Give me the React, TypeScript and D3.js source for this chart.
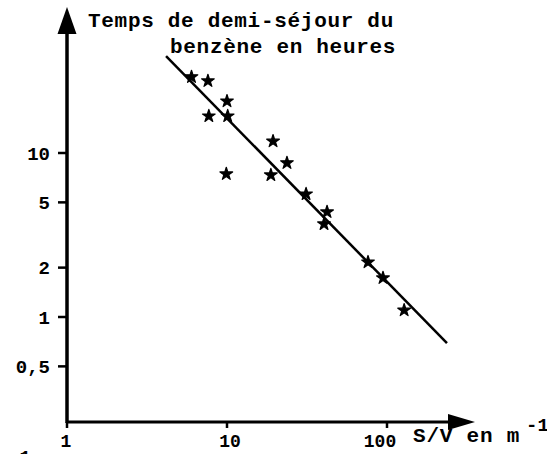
import React, { useEffect, useRef } from 'react';
import * as d3 from 'd3';

// surface/volume ratio (m-1) and benzene half-residence time (hours)
const surfaceVolume = [6.0, 7.6, 10.0, 7.7, 10.1, 19.4, 23.7, 9.9, 18.8, 31.2, 42.2, 40.4, 76.1, 94.4, 128];
const halfTime = [29.1, 27.5, 20.7, 16.8, 16.8, 11.8, 8.7, 7.45, 7.34, 5.62, 4.37, 3.69, 2.16, 1.73, 1.10];

// fitted line end points
const fitX = [4.16, 237];
const fitY = [39.0, 0.694];

const xTicks = [1, 10, 100];
const xTickLabels = ['1', '10', '100'];
const yTicks = [10, 5, 2, 1, 0.5];
const yTickLabels = ['10', '5', '2', '1', '0,5'];

const titleLines = ['Temps de demi-séjour du', 'benzène en heures'];

function App() {
  return (
    <div>
      <HalfTimeChart />
    </div>
  );
}

function HalfTimeChart() {
  const d3Container = useRef(null);

  useEffect(() => {
    document.body.style.margin = '0';
    if (!d3Container.current) return;

    const width = 547;
    const height = 454;
    const font = '"Liberation Mono", "DejaVu Sans Mono", monospace';

    d3.select(d3Container.current).select('svg').remove();

    const svg = d3.select(d3Container.current)
      .append('svg')
      .attr('width', width)
      .attr('height', height)
      .style('display', 'block')
      .style('background', '#fff');

    const x = d3.scaleLog().domain([1, 100]).range([67, 387]);
    const y = d3.scaleLog().domain([1, 10]).range([317, 153]);

    const x0 = x(1);
    const yBase = 422;

    // axes with arrow heads
    svg.append('line')
      .attr('x1', x0).attr('y1', yBase)
      .attr('x2', 450).attr('y2', yBase)
      .style('stroke', '#000').style('stroke-width', 3);
    svg.append('path')
      .attr('d', `M448,${yBase - 8} L475,${yBase} L448,${yBase + 8} Z`)
      .style('fill', '#000');

    svg.append('line')
      .attr('x1', x0).attr('y1', yBase + 1)
      .attr('x2', x0).attr('y2', 30)
      .style('stroke', '#000').style('stroke-width', 3.5);
    svg.append('path')
      .attr('d', `M${x0 - 9.5},34 L${x0},7 L${x0 + 9.5},34 Z`)
      .style('fill', '#000');

    // x ticks
    xTicks.forEach((t, i) => {
      svg.append('line')
        .attr('x1', x(t)).attr('y1', yBase)
        .attr('x2', x(t)).attr('y2', yBase + 6)
        .style('stroke', '#000').style('stroke-width', 2.5);
      svg.append('text')
        .attr('x', x(t) - (i === 0 ? 1 : i === 1 ? -3 : 7))
        .attr('y', 447)
        .attr('text-anchor', 'middle')
        .style('font-family', font)
        .style('font-weight', 'bold')
        .style('font-size', '18px')
        .text(xTickLabels[i]);
    });

    // y ticks
    yTicks.forEach((t, i) => {
      svg.append('line')
        .attr('x1', x0 - 9).attr('y1', y(t))
        .attr('x2', x0).attr('y2', y(t))
        .style('stroke', '#000').style('stroke-width', 2.5);
      svg.append('text')
        .attr('x', 50)
        .attr('y', y(t))
        .attr('dy', '0.35em')
        .attr('text-anchor', 'end')
        .style('font-family', font)
        .style('font-weight', 'bold')
        .style('font-size', '19px')
        .text(yTickLabels[i]);
    });

    // title
    const titleX = [88, 170];
    const titleY = [27, 53];
    titleLines.forEach((line, i) => {
      svg.append('text')
        .attr('x', titleX[i])
        .attr('y', titleY[i])
        .style('font-family', font)
        .style('font-weight', 'bold')
        .style('font-size', '21px')
        .style('letter-spacing', '0.7px')
        .text(line);
    });

    // x axis title
    svg.append('text')
      .attr('x', 413)
      .attr('y', 442)
      .style('font-family', font)
      .style('font-weight', 'bold')
      .style('font-size', '21px')
      .style('letter-spacing', '0.8px')
      .text('S/V en m');
    svg.append('text')
      .attr('x', 526)
      .attr('y', 431)
      .style('font-family', font)
      .style('font-weight', 'bold')
      .style('font-size', '19px')
      .text('-1');

    // clipped fragment at the bottom left
    svg.append('text')
      .attr('x', 8)
      .attr('y', 463)
      .style('font-family', font)
      .style('font-weight', 'bold')
      .style('font-size', '19px')
      .text('-1');

    // fitted line
    svg.append('line')
      .attr('x1', x(fitX[0])).attr('y1', y(fitY[0]))
      .attr('x2', x(fitX[1])).attr('y2', y(fitY[1]))
      .style('stroke', '#000').style('stroke-width', 2.5);

    // data points
    const star = d3.symbol().type(d3.symbolStar).size(50);
    surfaceVolume.forEach((sv, i) => {
      svg.append('path')
        .attr('d', star())
        .attr('transform', `translate(${x(sv)},${y(halfTime[i])})`)
        .style('fill', '#000')
        .style('stroke', '#000')
        .style('stroke-width', 1.2)
        .style('stroke-linejoin', 'round');
    });
  }, []);

  return (
    <div ref={d3Container} />
  );
}

export default App;
